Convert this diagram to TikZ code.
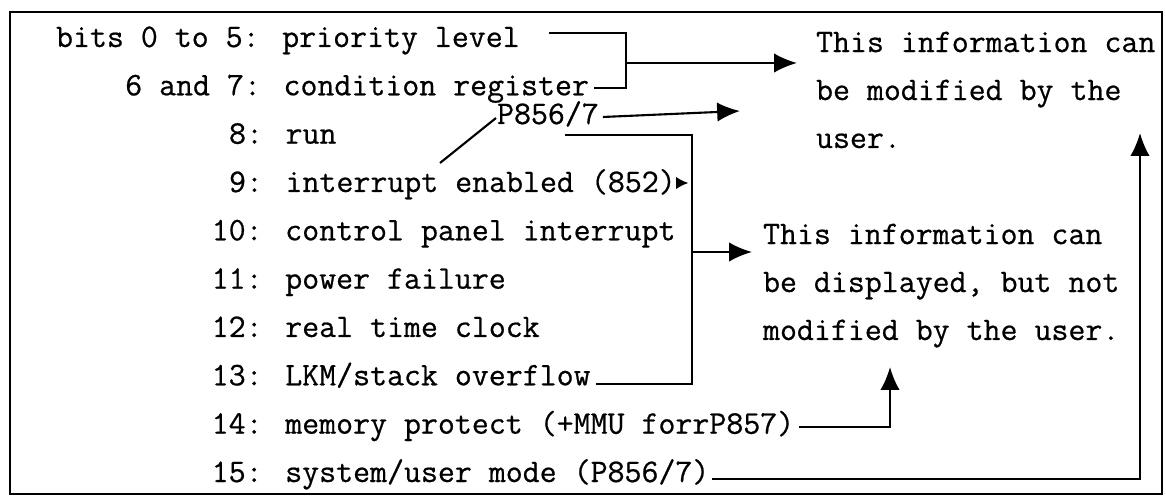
\documentclass[tikz,border=0pt]{standalone}
\usepackage{fontspec}
\newfontfamily\typewriter{Latin Modern Mono}[FakeBold=0.6]
\usetikzlibrary{arrows.meta, calc}

\begin{document}
\begin{tikzpicture}[x=0.02cm, y=-0.02cm, >={Latex[length=13pt,width=11pt]}, line width=1.2pt,
    bit/.style={anchor=base west, inner sep=0pt, font=\fontsize{18.75}{27.3}\selectfont\typewriter},
    note/.style={bit, align=left}]
    \useasboundingbox (0,0) rectangle (1166,499);
    % frame
    \draw[line width=1.6pt] (10,12) rectangle (1162,494);

    % status word bits
    \node[bit] (b05) at (55,47) {bits 0 to 5: priority level};
    \node[bit] (b67) at (124.2,95.3) {6 and 7: condition register};
    \node[bit] (b8) at (228,143.7) {8: run};
    \node[bit] (b9) at (228,192) {9: interrupt enabled (852)};
    \node[bit] (b10) at (210.7,240.3) {10: control panel interrupt};
    \node[bit] (b11) at (210.7,288.7) {11: power failure};
    \node[bit] (b12) at (210.7,337) {12: real time clock};
    \node[bit] (b13) at (210.7,385.3) {13: LKM/stack overflow};
    \node[bit] (b14) at (210.7,433.7) {14: memory protect (+MMU forrP857)};
    \node[bit] (b15) at (210.7,482) {15: system/user mode (P856/7)};
    \node[bit] (p856) at (496,124) {P856/7};

    % notes on the right (base = last line)
    \node[note] (mod) at (815,148) {This information can\\be modified by the\\user.};
    \node[note] (disp) at (762,340) {This information can\\be displayed, but not\\modified by the user.};

    % bends and arrow ends
    \coordinate (k1) at (626,63);
    \coordinate (k2) at (692,252);
    \coordinate (t1) at (797,63);
    \coordinate (t2) at (740,111);
    \coordinate (t3) at (752,252);
    \coordinate (t4) at (890,367);
    \coordinate (t5) at (1140,133);
    \coordinate (d1) at (440,163);
    \coordinate (e9) at ($(b9.base east)+(2,-9)$);

    % brackets
    \draw ($(b05.base east)+(28,-14)$) -| (k1) |- ($(b67.base east)+(4,-7)$);
    \draw[->] (k1) -- (t1);
    \draw ($(p856.base west)+(69,11)$) -| (k2) |- ($(b13.base east)+(4,-1)$);
    \draw[->] (k2) -- (t3);

    % P856/7 remark
    \draw[->] ($(p856.base east)+(3,-7)$) -- (t2);
    \draw ($(p856.base west)+(0,-6)$) -- (d1);
    \draw[-{Latex[length=7pt,width=7pt]}] (e9) -- ([xshift=-2pt]e9 -| k2);

    % bits 14 and 15
    \draw[->] ($(b14.base east)+(4,-7)$) -| (t4);
    \draw[->] ($(b15.base east)+(2,-3)$) -| (t5);
\end{tikzpicture}
\end{document}
